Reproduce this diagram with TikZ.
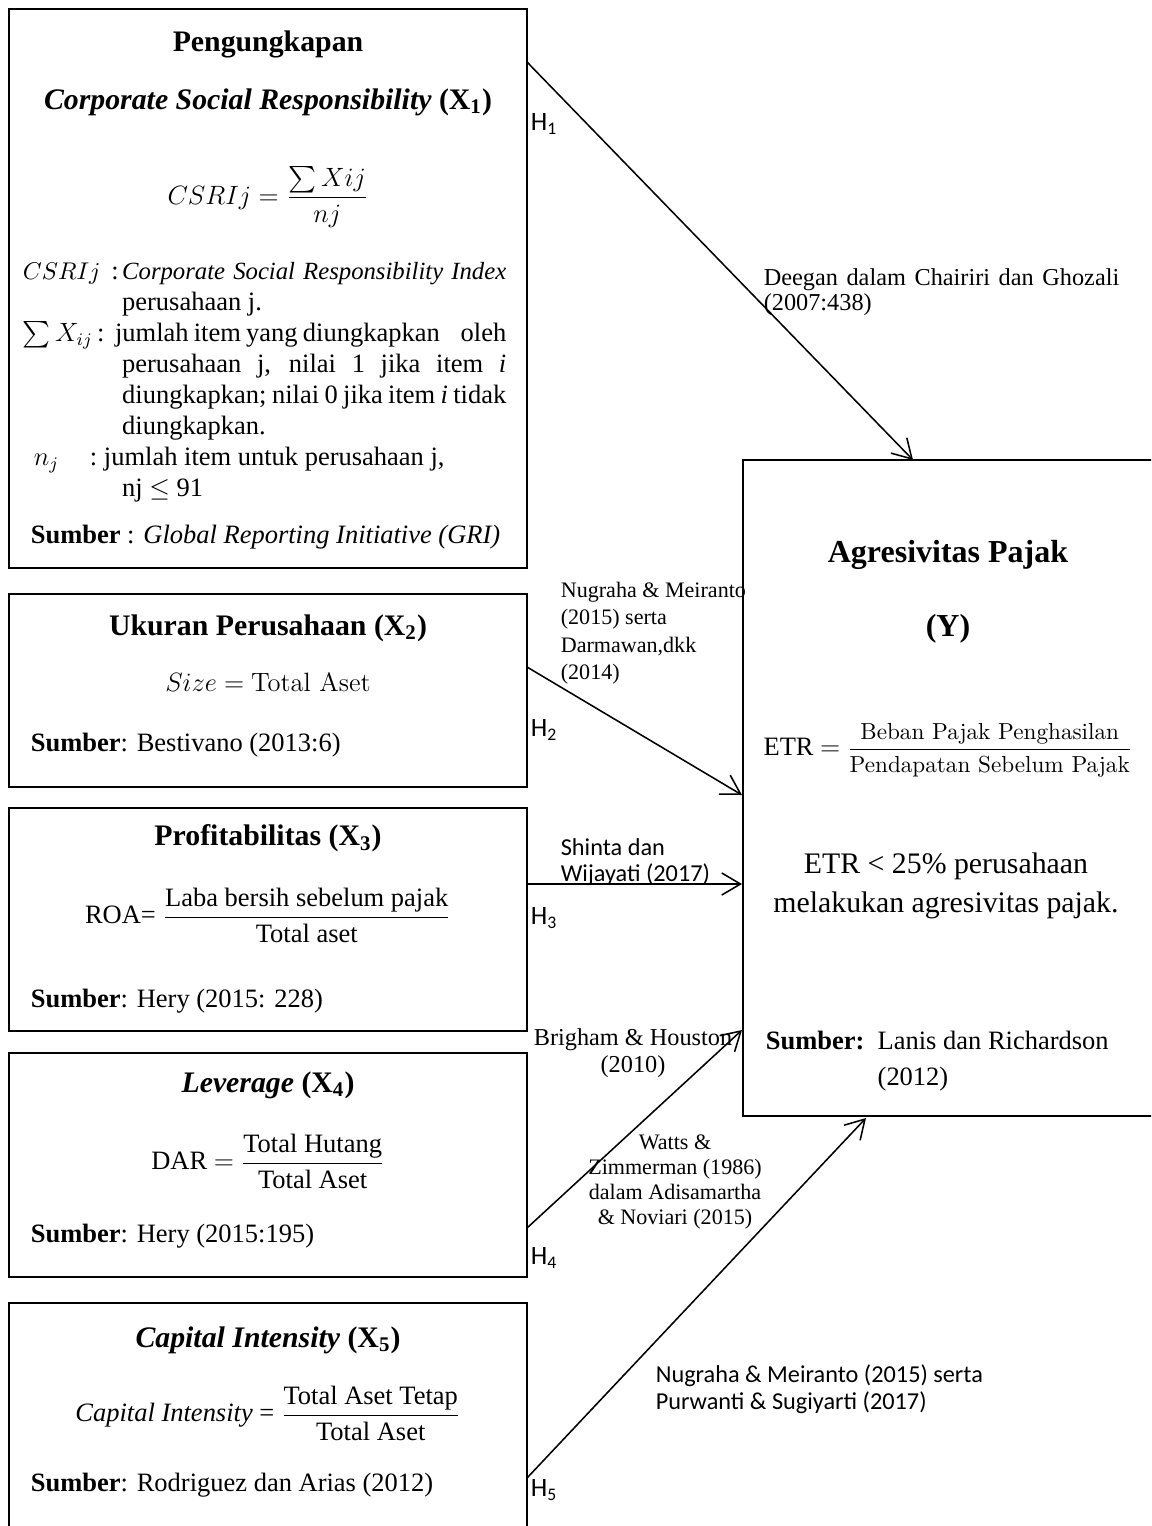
\documentclass[tikz,border=0pt]{standalone}
\usepackage{amsmath}
\usepackage{fontspec}
\setmainfont{Liberation Serif}
\newfontfamily\calibri{Carlito}
\newcommand{\lmfont}{\fontfamily{lmr}\selectfont}
\usetikzlibrary{arrows.meta}

\tikzset{every picture/.style={line width=0.75pt}}
\tikzset{
  varbox/.style={line width=1pt},
  hypo/.style={line width=0.7pt,-{Straight Barb[length=8.5pt,width=10pt]}},
  titletext/.style={inner sep=0pt,font=\fontsize{13.5}{16}\selectfont\bfseries},
  bodytext/.style={inner sep=0pt,font=\fontsize{12}{14}\selectfont},
  citetext/.style={inner sep=0pt,font=\fontsize{10}{12}\selectfont},
  sanstext/.style={inner sep=0pt,font=\calibri\fontsize{11}{12.5}\selectfont},
  hlabel/.style={anchor=west,inner sep=0pt,font=\calibri\fontsize{12}{14}\selectfont}
}

\begin{document}
\begin{tikzpicture}[x=0.453pt,y=0.453pt,yscale=-1,xscale=1]
\useasboundingbox (0,0) rectangle (1151,1526);
\clip (0,0) rectangle (1151,1526);

%Shape: Rectangle X1
\draw [varbox] (9,9) rectangle (527,568) ;
%Shape: Rectangle X2
\draw [varbox] (9,594) rectangle (527,787) ;
%Shape: Rectangle X3
\draw [varbox] (9,808) rectangle (527,1031) ;
%Shape: Rectangle X4
\draw [varbox] (9,1053) rectangle (527,1277) ;
%Shape: Rectangle X5
\draw [varbox] (9,1303) rectangle (527,1540) ;
%Shape: Rectangle Y
\draw [varbox] (743,460) rectangle (1165,1116) ;

% Text Node
\node [titletext] (pengung) at (268,44) {Pengungkapan};
% Text Node
\node [titletext] (csrtitle) at (268,102) {\textit{Corporate Social Responsibility} (X\textsubscript{1})};
% Text Node
\node [bodytext,font=\fontsize{13}{15}\selectfont] (csrform) at (268,197) {$\displaystyle CSRIj=\frac{\sum Xij}{nj}$};
% Text Node
\node [bodytext,anchor=north west,text width=219pt,align=justify] (csrdesc) at (22,262) {%
\parindent=0pt\hyphenpenalty=10000\exhyphenpenalty=10000
\hangindent=45pt\hangafter=1
\hbox to \hsize{\makebox[45pt][l]{{\fontsize{10.5}{14}\selectfont$CSRIj$}\hspace{5pt}:}\makebox[\dimexpr\hsize-45pt\relax][s]{\fontsize{11.2}{14}\selectfont\textit{Corporate Social Responsibility Index}}}\newline perusahaan j.\par
\hangindent=45pt\hangafter=1
$\sum X_{ij}$\,:\ \ jumlah item yang diungkapkan\ \ \ \ oleh\linebreak perusahaan j, nilai 1 jika item \textit{i}\linebreak diungkapkan; nilai 0 jika item \textit{i} tidak\linebreak diungkapkan.\par
\hangindent=45pt\hangafter=1
\hspace*{5pt}$n_j$\hspace{14pt}:\ jumlah item untuk perusahaan j,\newline nj $\leq$ 91\par};
% Text Node
\node [bodytext,anchor=west] (sumber1) at (30,537) {\textbf{Sumber} : \textit{Global Reporting Initiative (GRI)}};

% Text Node
\node [titletext] (ukuran) at (268,628) {Ukuran Perusahaan (X\textsubscript{2})};
% Text Node
\node [bodytext] (sizeform) at (268,682) {$Size=$ {\lmfont Total Aset}};
% Text Node
\node [bodytext,anchor=west] (sumber2) at (30,745) {\textbf{Sumber}: Bestivano (2013:6)};

% Text Node
\node [titletext] (profit) at (268,838) {Profitabilitas (X\textsubscript{3})};
% Text Node
\node [bodytext] (roaform) at (268,915) {ROA= $\dfrac{\text{Laba bersih sebelum pajak}}{\text{Total aset}}$};
% Text Node
\node [bodytext,anchor=west] (sumber3) at (30,1001) {\textbf{Sumber}: Hery (2015: 228)};

% Text Node
\node [titletext] (lever) at (268,1085) {\textit{Leverage} (X\textsubscript{4})};
% Text Node
\node [bodytext] (darform) at (268,1161) {DAR $=$ $\dfrac{\text{Total Hutang}}{\text{Total Aset}}$};
% Text Node
\node [bodytext,anchor=west] (sumber4) at (30,1236) {\textbf{Sumber}: Hery (2015:195)};

% Text Node
\node [titletext] (capint) at (268,1340) {\textit{Capital Intensity} (X\textsubscript{5})};
% Text Node
\node [bodytext] (ciform) at (268,1413) {\textit{Capital Intensity} = $\dfrac{\text{Total Aset Tetap}}{\text{Total Aset}}$};
% Text Node
\node [bodytext,anchor=west] (sumber5) at (30,1485) {\textbf{Sumber}: Rodriguez dan Arias (2012)};

% Text Node
\node [titletext,font=\fontsize{14.5}{17}\selectfont\bfseries] (agres) at (948,555) {Agresivitas Pajak};
% Text Node
\node [titletext,font=\fontsize{14.5}{17}\selectfont\bfseries] (ylab) at (948,629) {(Y)};
% Text Node
\node [bodytext] (etrform) at (948,750) {ETR $=$ {\lmfont\fontsize{10.5}{12}\selectfont$\dfrac{\text{Beban Pajak Penghasilan}}{\text{Pendapatan Sebelum Pajak}}$}};
% Text Node
\node [bodytext,font=\fontsize{13.5}{17.5}\selectfont,align=center] (etrnote) at (946,886) {ETR \textless{} 25\% perusahaan\\melakukan agresivitas pajak.};
% Text Node
\node [bodytext,anchor=west,align=left,font=\fontsize{12}{16.5}\selectfont] (sumbery) at (765,1061) {\textbf{Sumber:}\ \ Lanis dan Richardson\\\phantom{\textbf{Sumber:}\ \ }(2012)};

% Text Node
\node [citetext,anchor=north west,text width=161pt,align=justify,font=\fontsize{11}{11.2}\selectfont] (deegan) at (763,268) {Deegan dalam Chairiri dan Ghozali\linebreak (2007:438)};
% Text Node
\node [citetext,anchor=north west,align=left,font=\fontsize{10}{12.5}\selectfont] (nugraha2) at (560,581) {Nugraha \& Meiranto\\(2015) serta\\Darmawan,dkk\\(2014)};
% Text Node
\node [sanstext,anchor=west,align=left,font=\calibri\fontsize{11}{11.5}\selectfont] (shinta) at (560,862) {Shinta dan\\Wijayati (2017)};
% Text Node
\node [citetext,align=center,font=\fontsize{11}{12}\selectfont] (brigham) at (633,1053) {Brigham \& Houston\\(2010)};
% Text Node
\node [citetext,align=center,font=\fontsize{10}{11.2}\selectfont] (watts) at (675,1182) {Watts \&\\Zimmerman (1986)\\dalam Adisamartha\\\& Noviari (2015)};
% Text Node
\node [sanstext,anchor=west,align=left] (nugraha5) at (655,1389) {Nugraha \& Meiranto (2015) serta\\Purwanti \& Sugiyarti (2017)};

% Text Node
\node [hlabel] (hone) at (530,124) {H\textsubscript{1}};
\node [hlabel] (htwo) at (530,730) {H\textsubscript{2}};
\node [hlabel] (hthree) at (530,918) {H\textsubscript{3}};
\node [hlabel] (hfour) at (530,1258) {H\textsubscript{4}};
\node [hlabel] (hfive) at (530,1490) {H\textsubscript{5}};

% Arrow ends
\coordinate (xone) at (527,62);
\coordinate (yone) at (913,460);
\coordinate (xtwo) at (527,667);
\coordinate (ytwo) at (742,795);
\coordinate (xthree) at (527,884);
\coordinate (ythree) at (742,884);
\coordinate (xfour) at (527,1228);
\coordinate (yfour) at (742,1030);
\coordinate (xfive) at (527,1478);
\coordinate (yfive) at (866,1118);

%Straight Lines
\draw [hypo] (xone) -- (yone) ;
\draw [hypo] (xtwo) -- (ytwo) ;
\draw [hypo] (xthree) -- (ythree) ;
\draw [hypo] (xfour) -- (yfour) ;
\draw [hypo] (xfive) -- (yfive) ;

\end{tikzpicture}
\end{document}
